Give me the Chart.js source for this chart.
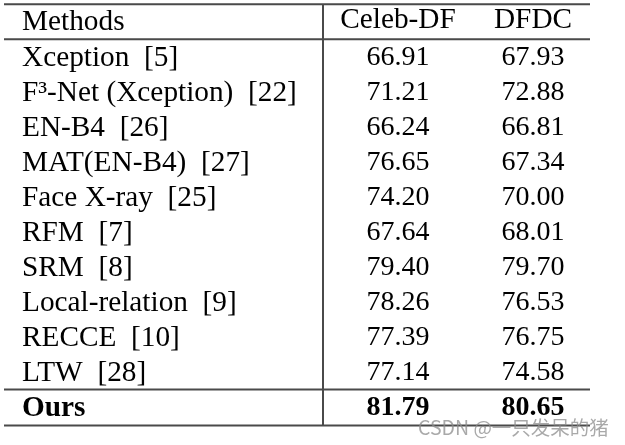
<!DOCTYPE html>
<html lang="en">
<head>
    <meta charset="UTF-8">
    <title>Celeb-DF / DFDC</title>
    <script src="https://cdn.jsdelivr.net/npm/chart.js"></script>
    <style>
        body { margin: 0; background: #fff; }
    </style>
</head>
<body>
    <canvas id="tableChart" width="625" height="445"></canvas>

    <script>
        // table content
        const headerTitle = 'Methods';
        const columns = ['Celeb-DF', 'DFDC'];
        const methods = [
            'Xception  [5]',
            'F\u00b3-Net (Xception)  [22]',
            'EN-B4  [26]',
            'MAT(EN-B4)  [27]',
            'Face X-ray  [25]',
            'RFM  [7]',
            'SRM  [8]',
            'Local-relation  [9]',
            'RECCE  [10]',
            'LTW  [28]',
            'Ours'
        ];
        const celebDF = [66.91, 71.21, 66.24, 76.65, 74.20, 67.64, 79.40, 78.26, 77.39, 77.14, 81.79];
        const dfdc = [67.93, 72.88, 66.81, 67.34, 70.00, 68.01, 79.70, 76.53, 76.75, 74.58, 80.65];
        const watermark = 'CSDN @一只发呆的猪';

        const serif = 'Liberation Serif, Times New Roman, serif';
        const textSize = 29.3;
        const numSize = 28;
        const oursIndex = methods.length - 1;

        function toPoints(values, column) {
            return values.map((v, i) => ({ x: column, y: methods[i], v: v }));
        }

        // draws cell texts, rules and the header
        const tablePlugin = {
            id: 'tablePlugin',
            afterDatasetsDraw(chart) {
                const ctx = chart.ctx;
                const area = chart.chartArea;
                const yScale = chart.scales.y;
                const xScale = chart.scales.x;
                const rowH = yScale.getPixelForValue(1) - yScale.getPixelForValue(0);

                ctx.save();
                ctx.fillStyle = '#000';
                ctx.textAlign = 'center';
                ctx.textBaseline = 'middle';
                chart.data.datasets.forEach((ds, di) => {
                    chart.getDatasetMeta(di).data.forEach((pt, i) => {
                        const bold = i === oursIndex ? 'bold ' : '';
                        ctx.font = bold + numSize + 'px ' + serif;
                        ctx.fillText(ds.data[i].v.toFixed(2), pt.x, pt.y + 1);
                    });
                });

                // header cell of the first column
                ctx.textAlign = 'left';
                ctx.font = textSize + 'px ' + serif;
                ctx.fillText(headerTitle, yScale.left, area.top - rowH / 2 + 1);

                // rules
                const left = 4;
                const right = xScale.getPixelForValue(1) + 57;
                const topRule = area.top - rowH;
                const oursRule = yScale.getPixelForValue(oursIndex) - rowH / 2;
                ctx.strokeStyle = '#4a4a4a';
                ctx.lineWidth = 2;
                ctx.beginPath();
                [topRule, area.top, oursRule, area.bottom + 1].forEach(y => {
                    ctx.moveTo(left, y);
                    ctx.lineTo(right, y);
                });
                const vx = area.left - 7.5;
                ctx.moveTo(vx, topRule);
                ctx.lineTo(vx, area.bottom + 2);
                ctx.stroke();

                // watermark
                ctx.font = '19.5px Noto Sans CJK SC, sans-serif';
                ctx.fillStyle = 'rgba(140, 140, 140, 0.75)';
                ctx.textAlign = 'left';
                ctx.fillText(watermark, 418, 428);
                ctx.restore();
            }
        };

        function drawTable() {
            const ctx = document.getElementById('tableChart').getContext('2d');
            new Chart(ctx, {
                type: 'scatter',
                data: {
                    datasets: [
                        { label: columns[0], data: toPoints(celebDF, columns[0]), pointRadius: 0 },
                        { label: columns[1], data: toPoints(dfdc, columns[1]), pointRadius: 0 }
                    ]
                },
                options: {
                    responsive: false,
                    animation: false,
                    layout: { padding: { left: 22, right: 24.5, top: 0, bottom: 0 } },
                    plugins: {
                        legend: { display: false },
                        tooltip: { enabled: false }
                    },
                    scales: {
                        x: {
                            type: 'category',
                            labels: columns,
                            position: 'top',
                            offset: true,
                            grid: { display: false, drawTicks: false },
                            border: { display: false },
                            ticks: {
                                color: '#000',
                                padding: 1,
                                font: { family: serif, size: textSize }
                            },
                            afterFit: scale => { scale.height = 39.2; }
                        },
                        y: {
                            type: 'category',
                            labels: methods,
                            offset: true,
                            grid: { display: false, drawTicks: false },
                            border: { display: false },
                            ticks: {
                                color: '#000',
                                crossAlign: 'far',
                                autoSkip: false,
                                labelOffset: 1.5,
                                font: c => ({
                                    family: serif,
                                    size: textSize,
                                    weight: c.index === oursIndex ? 'bold' : 'normal'
                                })
                            },
                            afterFit: scale => { scale.width = 308.5; }
                        }
                    }
                },
                plugins: [tablePlugin]
            });
        }

        drawTable();
    </script>
</body>
</html>
